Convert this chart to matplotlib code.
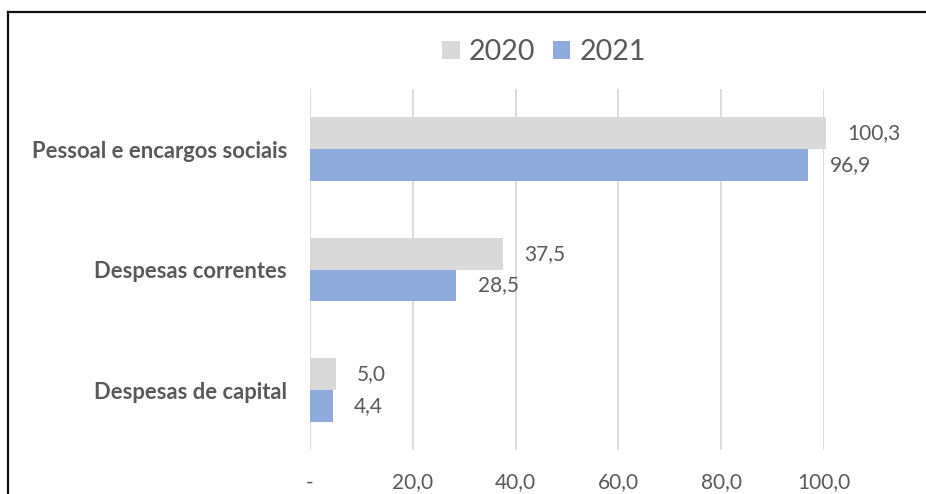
import matplotlib
matplotlib.use("Agg")
import matplotlib.pyplot as plt
from matplotlib.lines import Line2D
from matplotlib.patches import Patch
import numpy as np

categories = ["Pessoal e encargos sociais", "Despesas correntes", "Despesas de capital"]
series_names = ["2020", "2021"]
values_2020 = [100.3, 37.5, 5.0]
values_2021 = [96.9, 28.5, 4.4]
xticks = [0, 20, 40, 60, 80, 100]
xtick_labels = ["-", "20,0", "40,0", "60,0", "80,0", "100,0"]

c2020 = "#D9D9D9"
c2021 = "#8FAADC"
txt = "#595959"
font = "Lato"

fig = plt.figure(figsize=(9.26, 4.94), dpi=100)
ax = fig.add_axes([310/926, 1-450.25/494, 514/926, 361.5/494])

y = np.arange(len(categories))
h = 0.263
ax.barh(y - h/2, values_2020, height=h, color=c2020, zorder=2, clip_on=False, label=series_names[0])
ax.barh(y + h/2, values_2021, height=h, color=c2021, zorder=2, clip_on=False, label=series_names[1])

ax.set_ylim(len(categories) - 0.5, -0.5)
ax.set_xlim(0, 100)

def fmt(v):
    return f"{v:.1f}".replace(".", ",")

for yy, v in zip(y - h/2, values_2020):
    ax.annotate(fmt(v), (v, yy), xytext=(15.5, 0), textcoords="offset points",
                ha="left", va="center", fontsize=15, color=txt, family=font, annotation_clip=False)
for yy, v in zip(y + h/2, values_2021):
    ax.annotate(fmt(v), (v, yy), xytext=(15.5, 0), textcoords="offset points",
                ha="left", va="center", fontsize=15, color=txt, family=font, annotation_clip=False)

ax.set_xticks(xticks)
ax.set_xticklabels(xtick_labels, fontsize=15, color=txt, family=font)
ax.set_yticks(y)
ax.set_yticklabels(categories, fontsize=15.8, color=txt, family=font, fontweight="bold")
ax.tick_params(axis="x", length=0, pad=16)
ax.tick_params(axis="y", length=0, pad=16.5)
for s in ax.spines.values():
    s.set_visible(False)
ax.grid(axis="x", color="#D9D9D9", linewidth=1.3, zorder=0)
ax.set_axisbelow(True)

handles = [Patch(facecolor=c2020, edgecolor="none"), Patch(facecolor=c2021, edgecolor="none")]
fig.legend(handles, series_names, loc="center", bbox_to_anchor=(544/926, 1-52/494),
           ncol=2, frameon=False, prop={"family": font, "size": 20.5},
           labelcolor=txt, handlelength=0.62, handleheight=0.62,
           handletextpad=0.32, columnspacing=0.6, borderaxespad=0, borderpad=0)

# outer frame (top and left edges visible)
fig.add_artist(Line2D([8/926, 1.01], [1-12/494, 1-12/494], transform=fig.transFigure,
                      color="#111111", linewidth=1.6))
fig.add_artist(Line2D([8/926, 8/926], [1-12/494, -0.01], transform=fig.transFigure,
                      color="#111111", linewidth=1.6))

fig.savefig("out.png", dpi=100, facecolor="white")
